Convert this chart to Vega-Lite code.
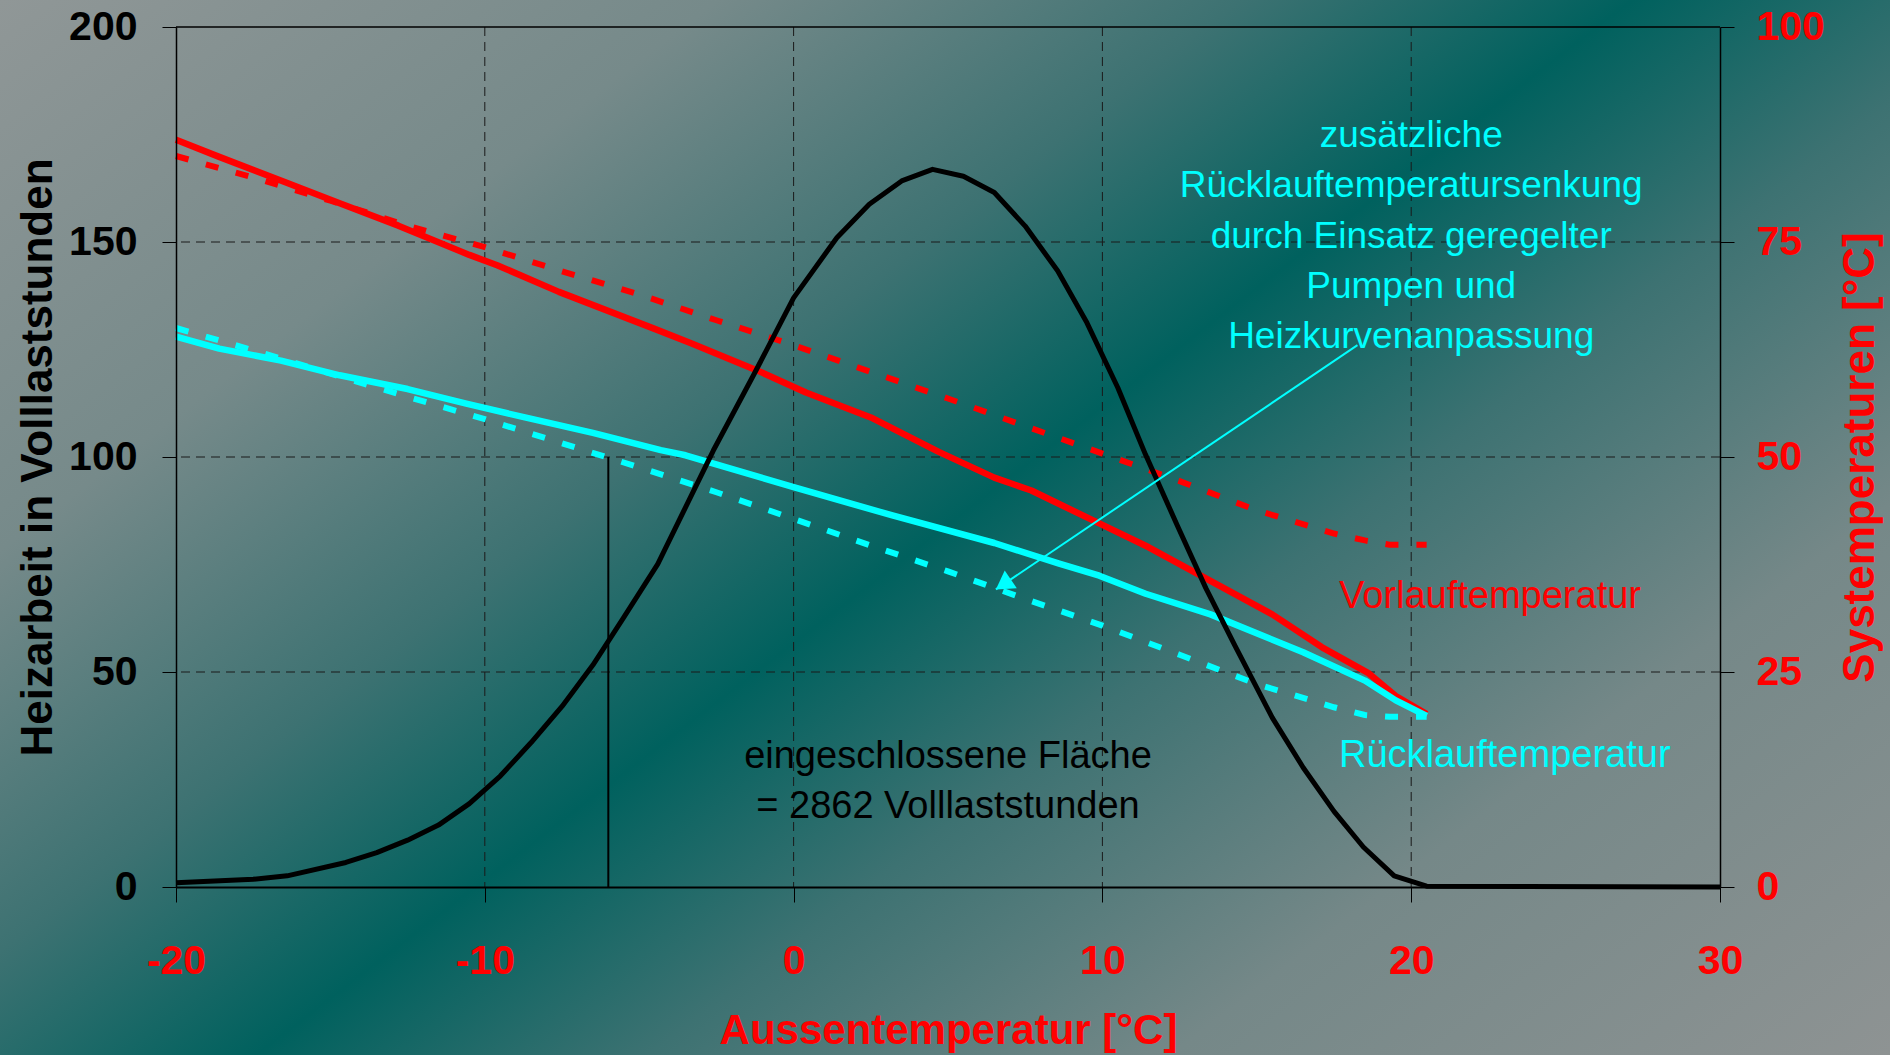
{
  "$schema": "https://vega.github.io/schema/vega-lite/v6.json",
  "width": 1544,
  "height": 860,
  "autosize": {"type": "none"},
  "padding": {"left": 176, "top": 27, "right": 170, "bottom": 168},
  "config": {"view": {"stroke": null}, "font": "Liberation Sans"},
  "datasets": {
    "bg": [{"x1": -25.7, "x2": 35.51, "y1": -19.54, "y2": 103.14}],
    "gridx": [{"T": -10}, {"T": 0}, {"T": 10}, {"T": 20}],
    "gridy": [{"temp": 25}, {"temp": 50}, {"temp": 75}],
    "temps": [
      {"T": -20, "temp": 86.9, "medium": "Vorlauf", "variant": "ist"},
      {"T": -18.6, "temp": 84.9, "medium": "Vorlauf", "variant": "ist"},
      {"T": -16.5, "temp": 82.0, "medium": "Vorlauf", "variant": "ist"},
      {"T": -14.7, "temp": 79.5, "medium": "Vorlauf", "variant": "ist"},
      {"T": -12.8, "temp": 76.9, "medium": "Vorlauf", "variant": "ist"},
      {"T": -10.5, "temp": 73.5, "medium": "Vorlauf", "variant": "ist"},
      {"T": -9.6, "temp": 72.3, "medium": "Vorlauf", "variant": "ist"},
      {"T": -7.6, "temp": 69.2, "medium": "Vorlauf", "variant": "ist"},
      {"T": -4.5, "temp": 64.9, "medium": "Vorlauf", "variant": "ist"},
      {"T": -3.3, "temp": 63.2, "medium": "Vorlauf", "variant": "ist"},
      {"T": -1.2, "temp": 60.1, "medium": "Vorlauf", "variant": "ist"},
      {"T": 0.4, "temp": 57.5, "medium": "Vorlauf", "variant": "ist"},
      {"T": 2.5, "temp": 54.6, "medium": "Vorlauf", "variant": "ist"},
      {"T": 4.7, "temp": 50.6, "medium": "Vorlauf", "variant": "ist"},
      {"T": 6.5, "temp": 47.6, "medium": "Vorlauf", "variant": "ist"},
      {"T": 7.7, "temp": 46.1, "medium": "Vorlauf", "variant": "ist"},
      {"T": 10, "temp": 42.1, "medium": "Vorlauf", "variant": "ist"},
      {"T": 11.5, "temp": 39.5, "medium": "Vorlauf", "variant": "ist"},
      {"T": 13.5, "temp": 35.6, "medium": "Vorlauf", "variant": "ist"},
      {"T": 15.5, "temp": 31.7, "medium": "Vorlauf", "variant": "ist"},
      {"T": 17.1, "temp": 27.9, "medium": "Vorlauf", "variant": "ist"},
      {"T": 18.6, "temp": 24.9, "medium": "Vorlauf", "variant": "ist"},
      {"T": 19.5, "temp": 22.2, "medium": "Vorlauf", "variant": "ist"},
      {"T": 20.5, "temp": 20.1, "medium": "Vorlauf", "variant": "ist"},
      {"T": -20, "temp": 64.0, "medium": "Rücklauf", "variant": "ist"},
      {"T": -18.6, "temp": 62.6, "medium": "Rücklauf", "variant": "ist"},
      {"T": -16.6, "temp": 61.2, "medium": "Rücklauf", "variant": "ist"},
      {"T": -14.7, "temp": 59.5, "medium": "Rücklauf", "variant": "ist"},
      {"T": -12.5, "temp": 57.9, "medium": "Rücklauf", "variant": "ist"},
      {"T": -10.6, "temp": 56.2, "medium": "Rücklauf", "variant": "ist"},
      {"T": -8.7, "temp": 54.6, "medium": "Rücklauf", "variant": "ist"},
      {"T": -6.5, "temp": 52.8, "medium": "Rücklauf", "variant": "ist"},
      {"T": -4.3, "temp": 50.8, "medium": "Rücklauf", "variant": "ist"},
      {"T": -3.5, "temp": 50.2, "medium": "Rücklauf", "variant": "ist"},
      {"T": 0, "temp": 46.5, "medium": "Rücklauf", "variant": "ist"},
      {"T": 3.2, "temp": 43.2, "medium": "Rücklauf", "variant": "ist"},
      {"T": 6.5, "temp": 40.0, "medium": "Rücklauf", "variant": "ist"},
      {"T": 8.6, "temp": 37.6, "medium": "Rücklauf", "variant": "ist"},
      {"T": 9.9, "temp": 36.2, "medium": "Rücklauf", "variant": "ist"},
      {"T": 11.4, "temp": 34.1, "medium": "Rücklauf", "variant": "ist"},
      {"T": 13.5, "temp": 31.7, "medium": "Rücklauf", "variant": "ist"},
      {"T": 16.5, "temp": 27.3, "medium": "Rücklauf", "variant": "ist"},
      {"T": 18.5, "temp": 24.0, "medium": "Rücklauf", "variant": "ist"},
      {"T": 19.5, "temp": 21.7, "medium": "Rücklauf", "variant": "ist"},
      {"T": 20.5, "temp": 19.9, "medium": "Rücklauf", "variant": "ist"},
      {"T": -20, "temp": 85.0, "medium": "Vorlauf", "variant": "geregelt"},
      {"T": -17.5, "temp": 82.5, "medium": "Vorlauf", "variant": "geregelt"},
      {"T": -15, "temp": 79.8, "medium": "Vorlauf", "variant": "geregelt"},
      {"T": -12.5, "temp": 76.9, "medium": "Vorlauf", "variant": "geregelt"},
      {"T": -10, "temp": 74.4, "medium": "Vorlauf", "variant": "geregelt"},
      {"T": -7.5, "temp": 71.6, "medium": "Vorlauf", "variant": "geregelt"},
      {"T": -5, "temp": 68.9, "medium": "Vorlauf", "variant": "geregelt"},
      {"T": -2.5, "temp": 65.9, "medium": "Vorlauf", "variant": "geregelt"},
      {"T": 0, "temp": 63.0, "medium": "Vorlauf", "variant": "geregelt"},
      {"T": 2.5, "temp": 59.9, "medium": "Vorlauf", "variant": "geregelt"},
      {"T": 5, "temp": 56.8, "medium": "Vorlauf", "variant": "geregelt"},
      {"T": 7.5, "temp": 53.6, "medium": "Vorlauf", "variant": "geregelt"},
      {"T": 10, "temp": 50.4, "medium": "Vorlauf", "variant": "geregelt"},
      {"T": 12.5, "temp": 47.2, "medium": "Vorlauf", "variant": "geregelt"},
      {"T": 15, "temp": 43.8, "medium": "Vorlauf", "variant": "geregelt"},
      {"T": 17.5, "temp": 41.1, "medium": "Vorlauf", "variant": "geregelt"},
      {"T": 18.5, "temp": 40.3, "medium": "Vorlauf", "variant": "geregelt"},
      {"T": 19.3, "temp": 39.8, "medium": "Vorlauf", "variant": "geregelt"},
      {"T": 20.5, "temp": 39.8, "medium": "Vorlauf", "variant": "geregelt"},
      {"T": -20, "temp": 65.0, "medium": "Rücklauf", "variant": "geregelt"},
      {"T": -17.5, "temp": 62.4, "medium": "Rücklauf", "variant": "geregelt"},
      {"T": -15, "temp": 59.7, "medium": "Rücklauf", "variant": "geregelt"},
      {"T": -12.5, "temp": 57.0, "medium": "Rücklauf", "variant": "geregelt"},
      {"T": -10, "temp": 54.4, "medium": "Rücklauf", "variant": "geregelt"},
      {"T": -7.5, "temp": 51.6, "medium": "Rücklauf", "variant": "geregelt"},
      {"T": -5, "temp": 48.8, "medium": "Rücklauf", "variant": "geregelt"},
      {"T": -2.5, "temp": 45.9, "medium": "Rücklauf", "variant": "geregelt"},
      {"T": 0, "temp": 42.8, "medium": "Rücklauf", "variant": "geregelt"},
      {"T": 2.5, "temp": 39.7, "medium": "Rücklauf", "variant": "geregelt"},
      {"T": 5, "temp": 36.7, "medium": "Rücklauf", "variant": "geregelt"},
      {"T": 7.5, "temp": 33.5, "medium": "Rücklauf", "variant": "geregelt"},
      {"T": 10, "temp": 30.4, "medium": "Rücklauf", "variant": "geregelt"},
      {"T": 12.5, "temp": 27.0, "medium": "Rücklauf", "variant": "geregelt"},
      {"T": 15, "temp": 23.6, "medium": "Rücklauf", "variant": "geregelt"},
      {"T": 17.5, "temp": 20.9, "medium": "Rücklauf", "variant": "geregelt"},
      {"T": 18.5, "temp": 20.0, "medium": "Rücklauf", "variant": "geregelt"},
      {"T": 19.3, "temp": 19.8, "medium": "Rücklauf", "variant": "geregelt"},
      {"T": 20.5, "temp": 19.8, "medium": "Rücklauf", "variant": "geregelt"}
    ],
    "heat": [
      {"T": -20, "h": 1.0}, {"T": -17.5, "h": 1.8}, {"T": -16.4, "h": 2.6}, {"T": -14.5, "h": 5.7},
      {"T": -13.5, "h": 8.0}, {"T": -12.5, "h": 10.9}, {"T": -11.5, "h": 14.4}, {"T": -10.5, "h": 19.4},
      {"T": -9.5, "h": 25.8}, {"T": -8.5, "h": 33.6}, {"T": -7.5, "h": 42.0}, {"T": -6.5, "h": 51.6},
      {"T": -5.5, "h": 62.7},
      {"T": -4.4, "h": 75.1}, {"T": -3.5, "h": 88.3}, {"T": -2.6, "h": 101.5}, {"T": -1.3, "h": 119.0},
      {"T": 0, "h": 137.0}, {"T": 1.4, "h": 151.0}, {"T": 2.45, "h": 158.8}, {"T": 3.5, "h": 164.2},
      {"T": 4.5, "h": 166.9}, {"T": 5.5, "h": 165.3}, {"T": 6.5, "h": 161.5}, {"T": 7.5, "h": 153.7},
      {"T": 8.55, "h": 143.3}, {"T": 9.5, "h": 131.2}, {"T": 10.5, "h": 116.1}, {"T": 11.4, "h": 100.5},
      {"T": 12.4, "h": 84.5}, {"T": 13.35, "h": 69.5}, {"T": 14.3, "h": 56.0}, {"T": 15.5, "h": 39.4},
      {"T": 16.5, "h": 27.8}, {"T": 17.5, "h": 17.6}, {"T": 18.45, "h": 9.3},
      {"T": 19.45, "h": 2.6}, {"T": 20.5, "h": 0.2}, {"T": 30, "h": 0.0}
    ],
    "marker": [{"T": -6, "h": 0, "h2": 100}],
    "border": [{"h": 200}],
    "areaText": [
      {"T": 5.0, "h": 27.6, "text": "eingeschlossene Fläche"},
      {"T": 5.0, "h": 15.98, "text": "= 2862 Volllaststunden"}
    ],
    "arrow": [{"T": 18.26, "temp": 63.0, "T2": 6.55, "temp2": 34.6}],
    "note": [
      {"T": 20, "temp": 86.08, "text": "zusätzliche"},
      {"T": 20, "temp": 80.2, "text": "Rücklauftemperatursenkung"},
      {"T": 20, "temp": 74.34, "text": "durch Einsatz geregelter"},
      {"T": 20, "temp": 68.45, "text": "Pumpen und"},
      {"T": 20, "temp": 62.64, "text": "Heizkurvenanpassung"}
    ],
    "vlabel": [{"T": 17.66, "temp": 32.44, "text": "Vorlauftemperatur"}],
    "rlabel": [{"T": 17.66, "temp": 13.95, "text": "Rücklauftemperatur"}]
  },
  "layer": [
    {
      "layer": [
        {
          "data": {"name": "bg"},
          "mark": {"type": "rect", "fill": {"gradient": "linear", "x1": 0, "y1": 0, "x2": 1.129, "y2": 0.822,
            "stops": [
              {"offset": 0, "color": "#909797"},
              {"offset": 0.22, "color": "#768a8a"},
              {"offset": 0.38, "color": "#3d7272"},
              {"offset": 0.5, "color": "#00615e"},
              {"offset": 0.62, "color": "#3d7272"},
              {"offset": 0.78, "color": "#758888"},
              {"offset": 1, "color": "#8e9393"}
            ]}},
          "encoding": {
            "x": {"field": "x1", "type": "quantitative",
              "scale": {"domain": [-20, 30], "nice": false, "zero": false},
              "axis": {"values": [-20, -10, 0, 10, 20, 30], "grid": false, "zindex": 1,
                "domainColor": "#000000", "domainWidth": 2, "tickColor": "#000000", "tickWidth": 1, "tickSize": 15,
                "labelColor": "#ff0000", "labelFont": "Liberation Sans", "labelFontSize": 41, "labelFontWeight": "bold",
                "labelPadding": 71, "labelBaseline": "alphabetic", "labelFlush": false, "labelOverlap": false,
                "labelExpr": "'' + datum.value",
                "title": "Aussentemperatur [°C]", "titleColor": "#ff0000", "titleFont": "Liberation Sans",
                "titleFontSize": 42, "titleFontWeight": "bold", "titleBaseline": "alphabetic",
                "titleX": 772, "titleY": 156, "titleAlign": "center", "titleAnchor": "middle"}},
            "x2": {"field": "x2"},
            "y": {"field": "y1", "type": "quantitative",
              "scale": {"domain": [0, 100], "nice": false, "zero": false},
              "axis": {"orient": "right", "values": [0, 25, 50, 75, 100], "grid": false, "zindex": 1,
                "domainColor": "#000000", "domainWidth": 1.5, "tickColor": "#000000", "tickWidth": 1, "tickSize": 14,
                "labelColor": "#ff0000", "labelFont": "Liberation Sans", "labelFontSize": 41, "labelFontWeight": "bold",
                "labelPadding": 22, "labelAlign": "left", "labelBaseline": "middle", "labelFlush": false, "labelOverlap": false,
                "title": "Systemperaturen [°C]", "titleColor": "#ff0000", "titleFont": "Liberation Sans",
                "titleFontSize": 44, "titleFontWeight": "bold", "titleAngle": 270, "titleBaseline": "alphabetic",
                "titleAlign": "center", "titleX": 153, "titleY": 430}},
            "y2": {"field": "y2"}
          }
        },
        {
          "data": {"name": "gridx"},
          "mark": {"type": "rule", "stroke": "#1a1a1a", "strokeWidth": 1, "strokeDash": [9, 6]},
          "encoding": {
            "x": {"field": "T", "type": "quantitative", "scale": {"domain": [-20, 30], "nice": false, "zero": false}, "title": "Aussentemperatur [°C]"}
          }
        },
        {
          "data": {"name": "gridy"},
          "mark": {"type": "rule", "stroke": "#1a1a1a", "strokeWidth": 1, "strokeDash": [9, 6]},
          "encoding": {
            "y": {"field": "temp", "type": "quantitative", "scale": {"domain": [0, 100], "nice": false, "zero": false}, "title": "Systemperaturen [°C]"}
          }
        },
        {
          "data": {"name": "temps"},
          "transform": [{"filter": "datum.variant === 'geregelt'"}],
          "mark": {"type": "line", "strokeWidth": 6, "strokeDash": [13, 18], "strokeCap": "butt"},
          "encoding": {
            "x": {"field": "T", "type": "quantitative", "scale": {"domain": [-20, 30], "nice": false, "zero": false}, "title": "Aussentemperatur [°C]"},
            "y": {"field": "temp", "type": "quantitative", "scale": {"domain": [0, 100], "nice": false, "zero": false}, "title": "Systemperaturen [°C]"},
            "color": {"field": "medium", "type": "nominal", "scale": {"domain": ["Vorlauf", "Rücklauf"], "range": ["#ff0000", "#00ffff"]}, "legend": null}
          }
        },
        {
          "data": {"name": "temps"},
          "transform": [{"filter": "datum.variant === 'ist'"}],
          "mark": {"type": "line", "strokeWidth": 6.5, "strokeJoin": "round"},
          "encoding": {
            "x": {"field": "T", "type": "quantitative", "scale": {"domain": [-20, 30], "nice": false, "zero": false}, "title": "Aussentemperatur [°C]"},
            "y": {"field": "temp", "type": "quantitative", "scale": {"domain": [0, 100], "nice": false, "zero": false}, "title": "Systemperaturen [°C]"},
            "color": {"field": "medium", "type": "nominal", "scale": {"domain": ["Vorlauf", "Rücklauf"], "range": ["#ff0000", "#00ffff"]}, "legend": null}
          }
        }
      ]
    },
    {
      "layer": [
        {
          "data": {"name": "heat"},
          "mark": {"type": "line", "stroke": "#000000", "strokeWidth": 5, "strokeJoin": "round"},
          "encoding": {
            "x": {"field": "T", "type": "quantitative", "scale": {"domain": [-20, 30], "nice": false, "zero": false}, "title": "Aussentemperatur [°C]"},
            "y": {"field": "h", "type": "quantitative",
              "scale": {"domain": [0, 200], "nice": false, "zero": false},
              "axis": {"orient": "left", "values": [0, 50, 100, 150, 200], "grid": false, "zindex": 1,
                "domainColor": "#000000", "domainWidth": 1.5, "tickColor": "#000000", "tickWidth": 1, "tickSize": 14,
                "labelColor": "#000000", "labelFont": "Liberation Sans", "labelFontSize": 41, "labelFontWeight": "bold",
                "labelPadding": 25, "labelAlign": "right", "labelBaseline": "middle", "labelFlush": false, "labelOverlap": false,
                "title": "Heizarbeit in Volllaststunden", "titleColor": "#000000", "titleFont": "Liberation Sans",
                "titleFontSize": 44, "titleFontWeight": "bold", "titleAngle": 270, "titleBaseline": "alphabetic",
                "titleAlign": "center", "titleX": -125, "titleY": 430}}
          }
        },
        {
          "data": {"name": "marker"},
          "mark": {"type": "rule", "stroke": "#000000", "strokeWidth": 2},
          "encoding": {
            "x": {"field": "T", "type": "quantitative", "scale": {"domain": [-20, 30], "nice": false, "zero": false}, "title": "Aussentemperatur [°C]"},
            "y": {"field": "h", "type": "quantitative", "scale": {"domain": [0, 200], "nice": false, "zero": false}, "title": "Heizarbeit in Volllaststunden"},
            "y2": {"field": "h2"}
          }
        },
        {
          "data": {"name": "border"},
          "mark": {"type": "rule", "stroke": "#000000", "strokeWidth": 1.5},
          "encoding": {
            "y": {"field": "h", "type": "quantitative", "scale": {"domain": [0, 200], "nice": false, "zero": false}, "title": "Heizarbeit in Volllaststunden"}
          }
        },
        {
          "data": {"name": "areaText"},
          "mark": {"type": "text", "font": "Liberation Sans", "fontSize": 38, "color": "#000000", "align": "center", "baseline": "alphabetic"},
          "encoding": {
            "x": {"field": "T", "type": "quantitative", "scale": {"domain": [-20, 30], "nice": false, "zero": false}, "title": "Aussentemperatur [°C]"},
            "y": {"field": "h", "type": "quantitative", "scale": {"domain": [0, 200], "nice": false, "zero": false}, "title": "Heizarbeit in Volllaststunden"},
            "text": {"field": "text"}
          }
        }
      ]
    },
    {
      "layer": [
        {
          "data": {"name": "arrow"},
          "mark": {"type": "rule", "stroke": "#00ffff", "strokeWidth": 2},
          "encoding": {
            "x": {"field": "T", "type": "quantitative", "scale": {"domain": [-20, 30], "nice": false, "zero": false}, "title": "Aussentemperatur [°C]"},
            "y": {"field": "temp", "type": "quantitative", "scale": {"domain": [0, 100], "nice": false, "zero": false}, "axis": null},
            "x2": {"field": "T2"},
            "y2": {"field": "temp2"}
          }
        },
        {
          "data": {"name": "arrow"},
          "mark": {"type": "point", "shape": "M0,0L-1.2,2L1.2,2Z", "size": 324, "angle": 235.9, "filled": true, "fill": "#00ffff", "stroke": null, "opacity": 1},
          "encoding": {
            "x": {"field": "T2", "type": "quantitative", "scale": {"domain": [-20, 30], "nice": false, "zero": false}, "title": "Aussentemperatur [°C]"},
            "y": {"field": "temp2", "type": "quantitative", "scale": {"domain": [0, 100], "nice": false, "zero": false}, "axis": null}
          }
        },
        {
          "data": {"name": "note"},
          "mark": {"type": "text", "font": "Liberation Sans", "fontSize": 37, "color": "#00ffff", "align": "center", "baseline": "alphabetic"},
          "encoding": {
            "x": {"field": "T", "type": "quantitative", "scale": {"domain": [-20, 30], "nice": false, "zero": false}, "title": "Aussentemperatur [°C]"},
            "y": {"field": "temp", "type": "quantitative", "scale": {"domain": [0, 100], "nice": false, "zero": false}, "axis": null},
            "text": {"field": "text"}
          }
        },
        {
          "data": {"name": "vlabel"},
          "mark": {"type": "text", "font": "Liberation Sans", "fontSize": 38, "color": "#ff0000", "align": "left", "baseline": "alphabetic"},
          "encoding": {
            "x": {"field": "T", "type": "quantitative", "scale": {"domain": [-20, 30], "nice": false, "zero": false}, "title": "Aussentemperatur [°C]"},
            "y": {"field": "temp", "type": "quantitative", "scale": {"domain": [0, 100], "nice": false, "zero": false}, "axis": null},
            "text": {"field": "text"}
          }
        },
        {
          "data": {"name": "rlabel"},
          "mark": {"type": "text", "font": "Liberation Sans", "fontSize": 38, "color": "#00ffff", "align": "left", "baseline": "alphabetic"},
          "encoding": {
            "x": {"field": "T", "type": "quantitative", "scale": {"domain": [-20, 30], "nice": false, "zero": false}, "title": "Aussentemperatur [°C]"},
            "y": {"field": "temp", "type": "quantitative", "scale": {"domain": [0, 100], "nice": false, "zero": false}, "axis": null},
            "text": {"field": "text"}
          }
        }
      ]
    }
  ],
  "resolve": {"scale": {"y": "independent"}}
}
